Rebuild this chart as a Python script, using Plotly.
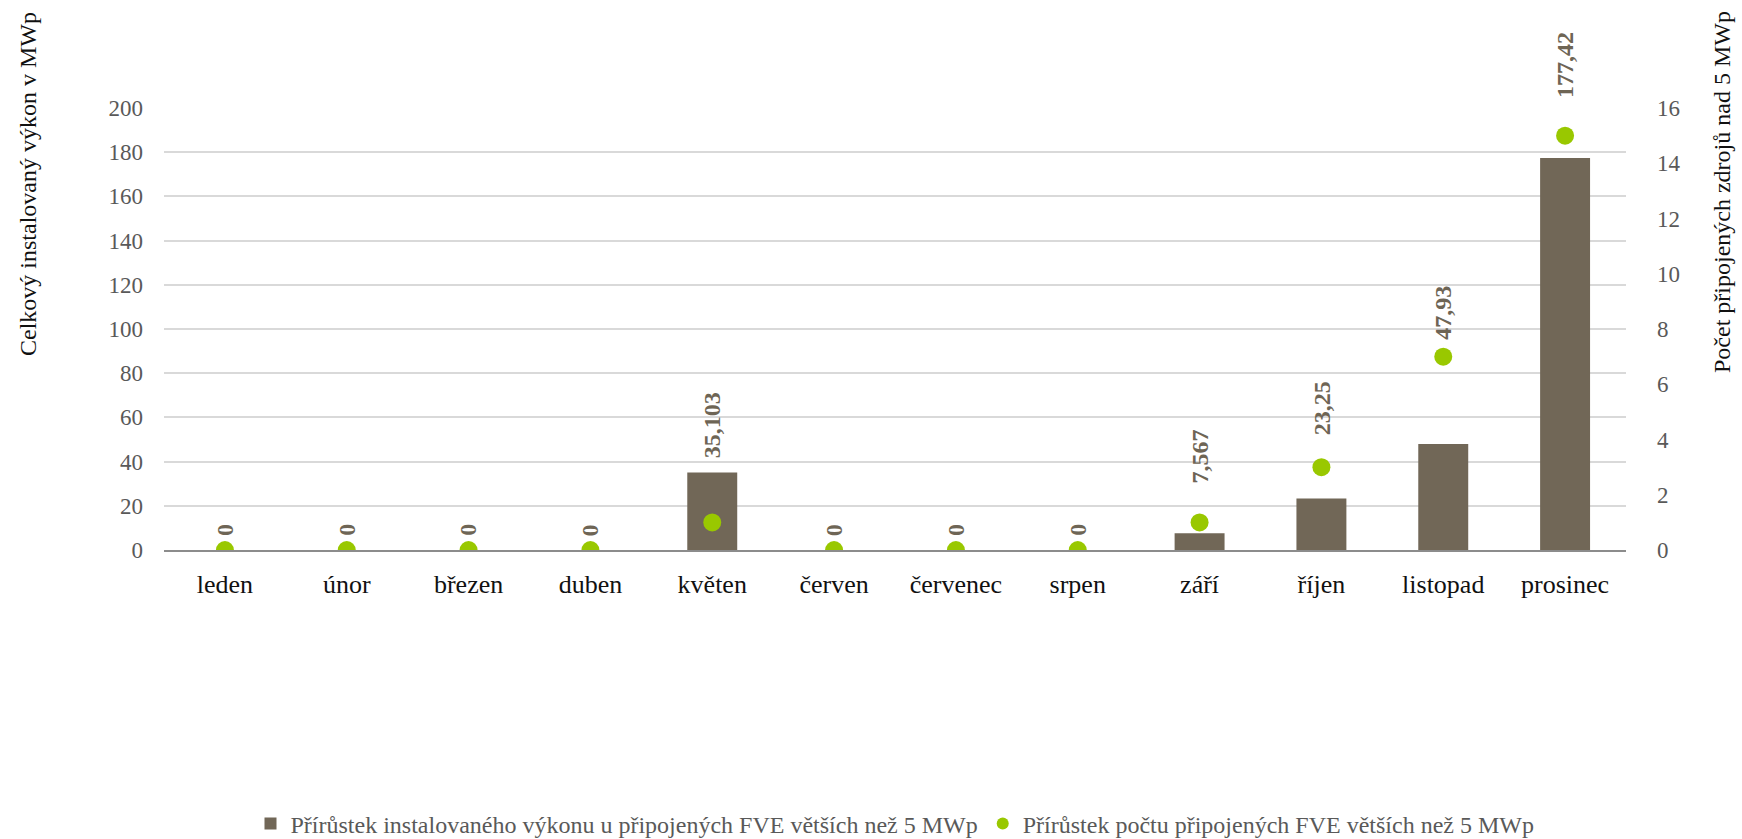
import plotly.graph_objects as go

# ---- data ----
months = ["leden", "únor", "březen", "duben", "květen", "červen",
          "červenec", "srpen", "září", "říjen", "listopad", "prosinec"]
power_mwp = [0, 0, 0, 0, 35.103, 0, 0, 0, 7.567, 23.25, 47.93, 177.42]
count_fve = [0, 0, 0, 0, 1, 0, 0, 0, 1, 3, 7, 15]
left_ticks = [0, 20, 40, 60, 80, 100, 120, 140, 160, 180, 200]
right_ticks = [0, 2, 4, 6, 8, 10, 12, 14, 16]

# label centre positions (left-axis units) – styling only
label_pos = [9, 9, 9, 9, 56.6, 9, 9, 9, 42.1, 64.3, 107.5, 219.5]

YMAX = 200
Y2MAX = 16

BAR_COLOR = "#716757"
DOT_COLOR = "#99C800"
LABEL_COLOR = "#6E6555"
FONT = "Liberation Serif, Times New Roman, serif"


def fmt(v):
    return f"{v:g}".replace(".", ",")


fig = go.Figure()
fig.add_trace(go.Bar(
    x=months, y=power_mwp, name="Přírůstek instalovaného výkonu u připojených FVE větších než 5 MWp",
    marker=dict(color=BAR_COLOR, line=dict(width=0)), yaxis="y",
))
fig.add_trace(go.Scatter(
    x=months, y=count_fve, name="Přírůstek počtu připojených FVE větších než 5 MWp",
    mode="markers", marker=dict(color=DOT_COLOR, size=18), yaxis="y2",
))

annotations = []
for m, v, p in zip(months, power_mwp, label_pos):
    annotations.append(dict(
        x=m, y=p / YMAX, xref="x", yref="paper", text=fmt(v), showarrow=False,
        textangle=-90, xanchor="center", yanchor="middle",
        font=dict(family=FONT, size=24, color=LABEL_COLOR, weight="bold"),
    ))

annotations.append(dict(
    x=(28 - 164) / 1462, y=(550 - 184) / 442, xref="paper", yref="paper",
    text="Celkový instalovaný výkon v MWp", textangle=-90, showarrow=False,
    xanchor="center", yanchor="middle", font=dict(family=FONT, size=24, color="#111111"),
))
annotations.append(dict(
    x=(1722 - 164) / 1462, y=(550 - 192) / 442, xref="paper", yref="paper",
    text="Počet připojených zdrojů nad 5 MWp", textangle=-90, showarrow=False,
    xanchor="center", yanchor="middle", font=dict(family=FONT, size=24, color="#111111"),
))

fig.update_layout(
    width=1742, height=839,
    margin=dict(l=164, r=116, t=108, b=289),
    paper_bgcolor="white", plot_bgcolor="white",
    font=dict(family=FONT, size=24, color="#595959"),
    bargap=0.59,
    showlegend=True,
    legend=dict(
        orientation="h", xref="paper", yref="container",
        x=0.5, xanchor="center", y=0.018, yanchor="middle",
        font=dict(family=FONT, size=24, color="#595959"),
        itemsizing="constant", tracegroupgap=0, itemwidth=30,
    ),
    xaxis=dict(
        type="category", range=[-0.5, 11.5], showgrid=False, showline=True,
        linecolor="#8C8C8C", linewidth=2,
        ticks="", tickfont=dict(family=FONT, size=26, color="#111111"),
        ticklabelstandoff=10, zeroline=False,
    ),
    yaxis=dict(
        range=[0, YMAX], tickvals=left_ticks, showgrid=True, gridcolor="#D9D9D9", gridwidth=2,
        zeroline=False, showline=False, ticks="",
        tickfont=dict(family=FONT, size=23, color="#595959"), ticklabelstandoff=20,
    ),
    yaxis2=dict(
        range=[0, Y2MAX], tickvals=right_ticks, overlaying="y", side="right",
        showgrid=False, zeroline=False, showline=False, ticks="",
        tickfont=dict(family=FONT, size=23, color="#595959"), ticklabelstandoff=30,
    ),
    annotations=annotations,
)

fig.write_html("out.html")
